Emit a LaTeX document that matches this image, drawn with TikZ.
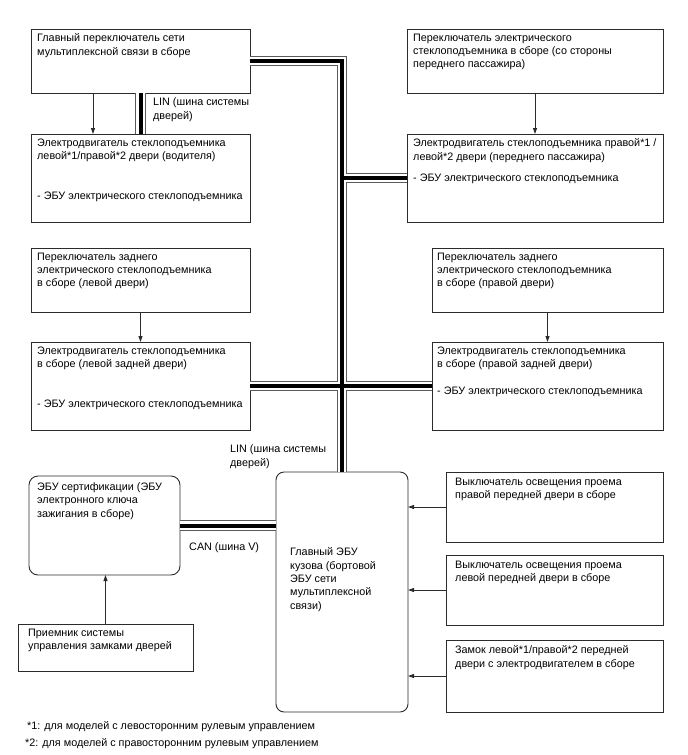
\documentclass[tikz,border=0pt]{standalone}
\usepackage{fontspec}
\setmainfont{Liberation Sans}
\usetikzlibrary{positioning, arrows.meta}
\definecolor{Ink}{HTML}{2B2B2B}
\definecolor{BusEdge}{HTML}{5A5A5A}

\begin{document}
\begin{tikzpicture}[
    x=1pt, y=1pt,
    every node/.style={font=\fontsize{10.8}{13.3}\selectfont},
    blk/.style={draw=Ink, line width=0.9pt, inner sep=0pt, outer sep=0pt},
    rblk/.style={blk, rounded corners=9pt},
    txt/.style={anchor=north west, align=left, inner sep=0pt, execute at begin node=\strut},
    intext/.style={txt, xshift=6pt, yshift=-4.6pt},
    arr/.style={-{Triangle[length=6pt, width=4pt]}, line width=0.9pt, draw=Ink},
    busedge/.style={line width=10.5pt, draw=BusEdge},
    busgap/.style={line width=8.3pt, draw=white},
    buscore/.style={line width=4pt, draw=black}
]
\useasboundingbox (0,0) rectangle (688,-755);

% Driver side
\node[blk, anchor=north west, minimum width=219pt, minimum height=64pt] (sw1) at (31,-29) {};
\node[intext] (sw1t) at (sw1.north west) {Главный переключатель сети\\мультиплексной связи в сборе};
\node[blk, minimum width=219pt, minimum height=88pt, below=41pt of sw1] (mw1) {};
\node[intext] (mw1t) at (mw1.north west) {Электродвигатель стеклоподъемника\\левой*1/правой*2 двери (водителя)\\[26.6pt]- ЭБУ электрического стеклоподъемника};

% Front passenger side
\node[blk, anchor=north west, minimum width=256pt, minimum height=64pt] (sw3) at (407,-29) {};
\node[intext] (sw3t) at (sw3.north west) {Переключатель электрического\\стеклоподъемника в сборе (со стороны\\переднего пассажира)};
\node[blk, minimum width=256pt, minimum height=88pt, below=41pt of sw3] (mw3) {};
\node[intext] (mw3t) at (mw3.north west) {Электродвигатель стеклоподъемника правой*1 /\\левой*2 двери (переднего пассажира)\\[8pt]- ЭБУ электрического стеклоподъемника};

% Rear doors
\node[blk, anchor=north west, minimum width=219pt, minimum height=64pt] (sw5) at (31,-248) {};
\node[intext] (sw5t) at (sw5.north west) {Переключатель заднего\\электрического стеклоподъемника\\в сборе (левой двери)};
\node[blk, minimum width=219pt, minimum height=88pt, below=30pt of sw5] (mw5) {};
\node[intext] (mw5t) at (mw5.north west) {Электродвигатель стеклоподъемника\\в сборе (левой задней двери)\\[26.6pt]- ЭБУ электрического стеклоподъемника};

\node[blk, anchor=north west, minimum width=231pt, minimum height=64pt] (sw7) at (432,-248) {};
\node[intext, xshift=-1pt] (sw7t) at (sw7.north west) {Переключатель заднего\\электрического стеклоподъемника\\в сборе (правой двери)};
\node[blk, minimum width=231pt, minimum height=88pt, below=30pt of sw7] (mw7) {};
\node[intext, xshift=-1pt] (mw7t) at (mw7.north west) {Электродвигатель стеклоподъемника\\в сборе (правой задней двери)\\[13.3pt]- ЭБУ электрического стеклоподъемника};

% Body ECU and certification ECU
\node[rblk, anchor=north west, minimum width=132pt, minimum height=240pt, rounded corners=8pt] (ecu) at (276,-472) {};
\node[txt, xshift=14pt, yshift=-75.6pt] (ecut) at (ecu.north west) {Главный ЭБУ\\кузова (бортовой\\ЭБУ сети\\мультиплексной\\связи)};
\node[rblk, anchor=north west, minimum width=151pt, minimum height=99pt] (cert) at (29,-476) {};
\node[txt, xshift=8pt, yshift=-6.6pt] (certt) at (cert.north west) {ЭБУ сертификации (ЭБУ\\электронного ключа\\зажигания в сборе)};
\node[blk, anchor=north west, minimum width=175pt, minimum height=47pt] (recv) at (18,-624) {};
\node[txt, xshift=10pt, yshift=-4.6pt] (recvt) at (recv.north west) {Приемник системы\\управления замками дверей};

% Courtesy switches and door lock
\node[blk, anchor=north west, minimum width=217pt, minimum height=70pt] (litr) at (446,-472) {};
\node[txt, xshift=9pt, yshift=-5.6pt] (litrt) at (litr.north west) {Выключатель освещения проема\\правой передней двери в сборе};
\node[blk, minimum width=217pt, minimum height=70pt, below=13pt of litr] (litl) {};
\node[txt, xshift=9pt, yshift=-5.6pt] (litlt) at (litl.north west) {Выключатель освещения проема\\левой передней двери в сборе};
\node[blk, minimum width=217pt, minimum height=72pt, below=15pt of litl] (lock) {};
\node[txt, xshift=9pt, yshift=-5.6pt] (lockt) at (lock.north west) {Замок левой*1/правой*2 передней\\двери с электродвигателем в сборе};

% Buses
\foreach \layer in {busedge, busgap, buscore} {
  \draw[\layer] (sw1.east) -| (ecu.north);
  \draw[\layer] (sw1) -- (mw1);
  \draw[\layer] (mw3.west) -- (mw3.west -| ecu.north);
  \draw[\layer] (mw5.east) -- (mw7.west);
  \draw[\layer] (cert.east) -- (cert.east -| ecu.west);
}

\node[txt] (lin1) at (153,-97.7) {LIN (шина системы\\дверей)};
\node[txt] (lin2) at (230,-444.7) {LIN (шина системы\\дверей)};
\node[txt] (can) at (189,-540.7) {CAN (шина V)};

% Signals
\draw[arr] ([xshift=62pt]sw1.south west) -- ([xshift=62pt]mw1.north west);
\draw[arr] (sw3) -- (mw3);
\draw[arr] (sw5) -- (mw5);
\draw[arr] (sw7) -- (mw7);
\draw[arr] (recv.north) -- (recv.north |- cert.south);
\draw[arr] (litr.west) -- (litr.west -| ecu.east);
\draw[arr] (litl.west) -- (litl.west -| ecu.east);
\draw[arr] (lock.west) -- (lock.west -| ecu.east);

% Notes
\node[txt] (fn1) at (27,-719.7) {*1: для моделей с левосторонним рулевым управлением};
\node[txt] (fn2) at (25,-736.7) {*2: для моделей с правосторонним рулевым управлением};

\end{tikzpicture}
\end{document}
